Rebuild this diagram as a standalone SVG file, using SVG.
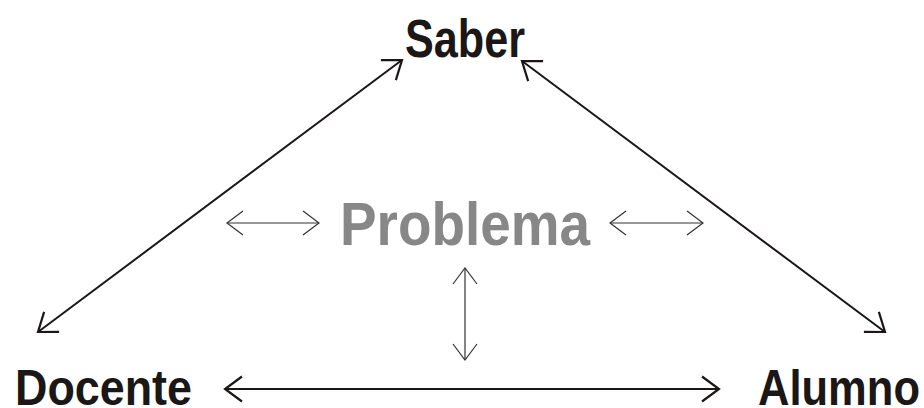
<svg xmlns="http://www.w3.org/2000/svg" width="924" height="408" viewBox="0 0 924 408">
<style>
.lbl{font-family:"Liberation Sans",Arial,sans-serif;font-weight:bold;fill:#1a1716}
.prob{font-family:"Liberation Sans",Arial,sans-serif;font-weight:bold;fill:#878787}
.big{stroke:#1a1716;stroke-width:2;fill:none;marker-start:url(#hb);marker-end:url(#hb)}
.small{stroke:#333;stroke-width:1.2;fill:none;marker-start:url(#hs);marker-end:url(#hs)}
</style>
<defs>
<marker id="hb" markerUnits="userSpaceOnUse" viewBox="-20 -15 24 30" refX="0" refY="0" markerWidth="24" markerHeight="30" orient="auto-start-reverse">
<path d="M-17,-12.5 L0,0 L-17,12.5" fill="none" stroke="#1a1716" stroke-width="2.2"/>
</marker>
<marker id="hs" markerUnits="userSpaceOnUse" viewBox="-20 -15 24 30" refX="0" refY="0" markerWidth="24" markerHeight="30" orient="auto-start-reverse">
<path d="M-16,-12 L0,0 L-16,12" fill="none" stroke="#333" stroke-width="1.2"/>
</marker>
</defs>
<g id="connectors">
<line class="big" x1="38" y1="332" x2="402" y2="60"/>
<line class="big" x1="522" y1="61" x2="885" y2="332"/>
<line class="big" x1="225" y1="389" x2="719" y2="389"/>
<line class="small" x1="227" y1="223" x2="319" y2="223"/>
<line class="small" x1="610" y1="223" x2="703" y2="223"/>
<line class="small" x1="465" y1="268" x2="465" y2="360"/>
</g>
<g id="saber"><text class="lbl" x="405" y="57" font-size="53" textLength="120" lengthAdjust="spacingAndGlyphs">Saber</text></g>
<g id="docente"><text class="lbl" x="15" y="405" font-size="50" textLength="177" lengthAdjust="spacingAndGlyphs">Docente</text></g>
<g id="alumno"><text class="lbl" x="758" y="405" font-size="50" textLength="162" lengthAdjust="spacingAndGlyphs">Alumno</text></g>
<g id="problema"><text class="prob" x="340" y="245" font-size="62" textLength="250" lengthAdjust="spacingAndGlyphs">Problema</text></g>
</svg>
